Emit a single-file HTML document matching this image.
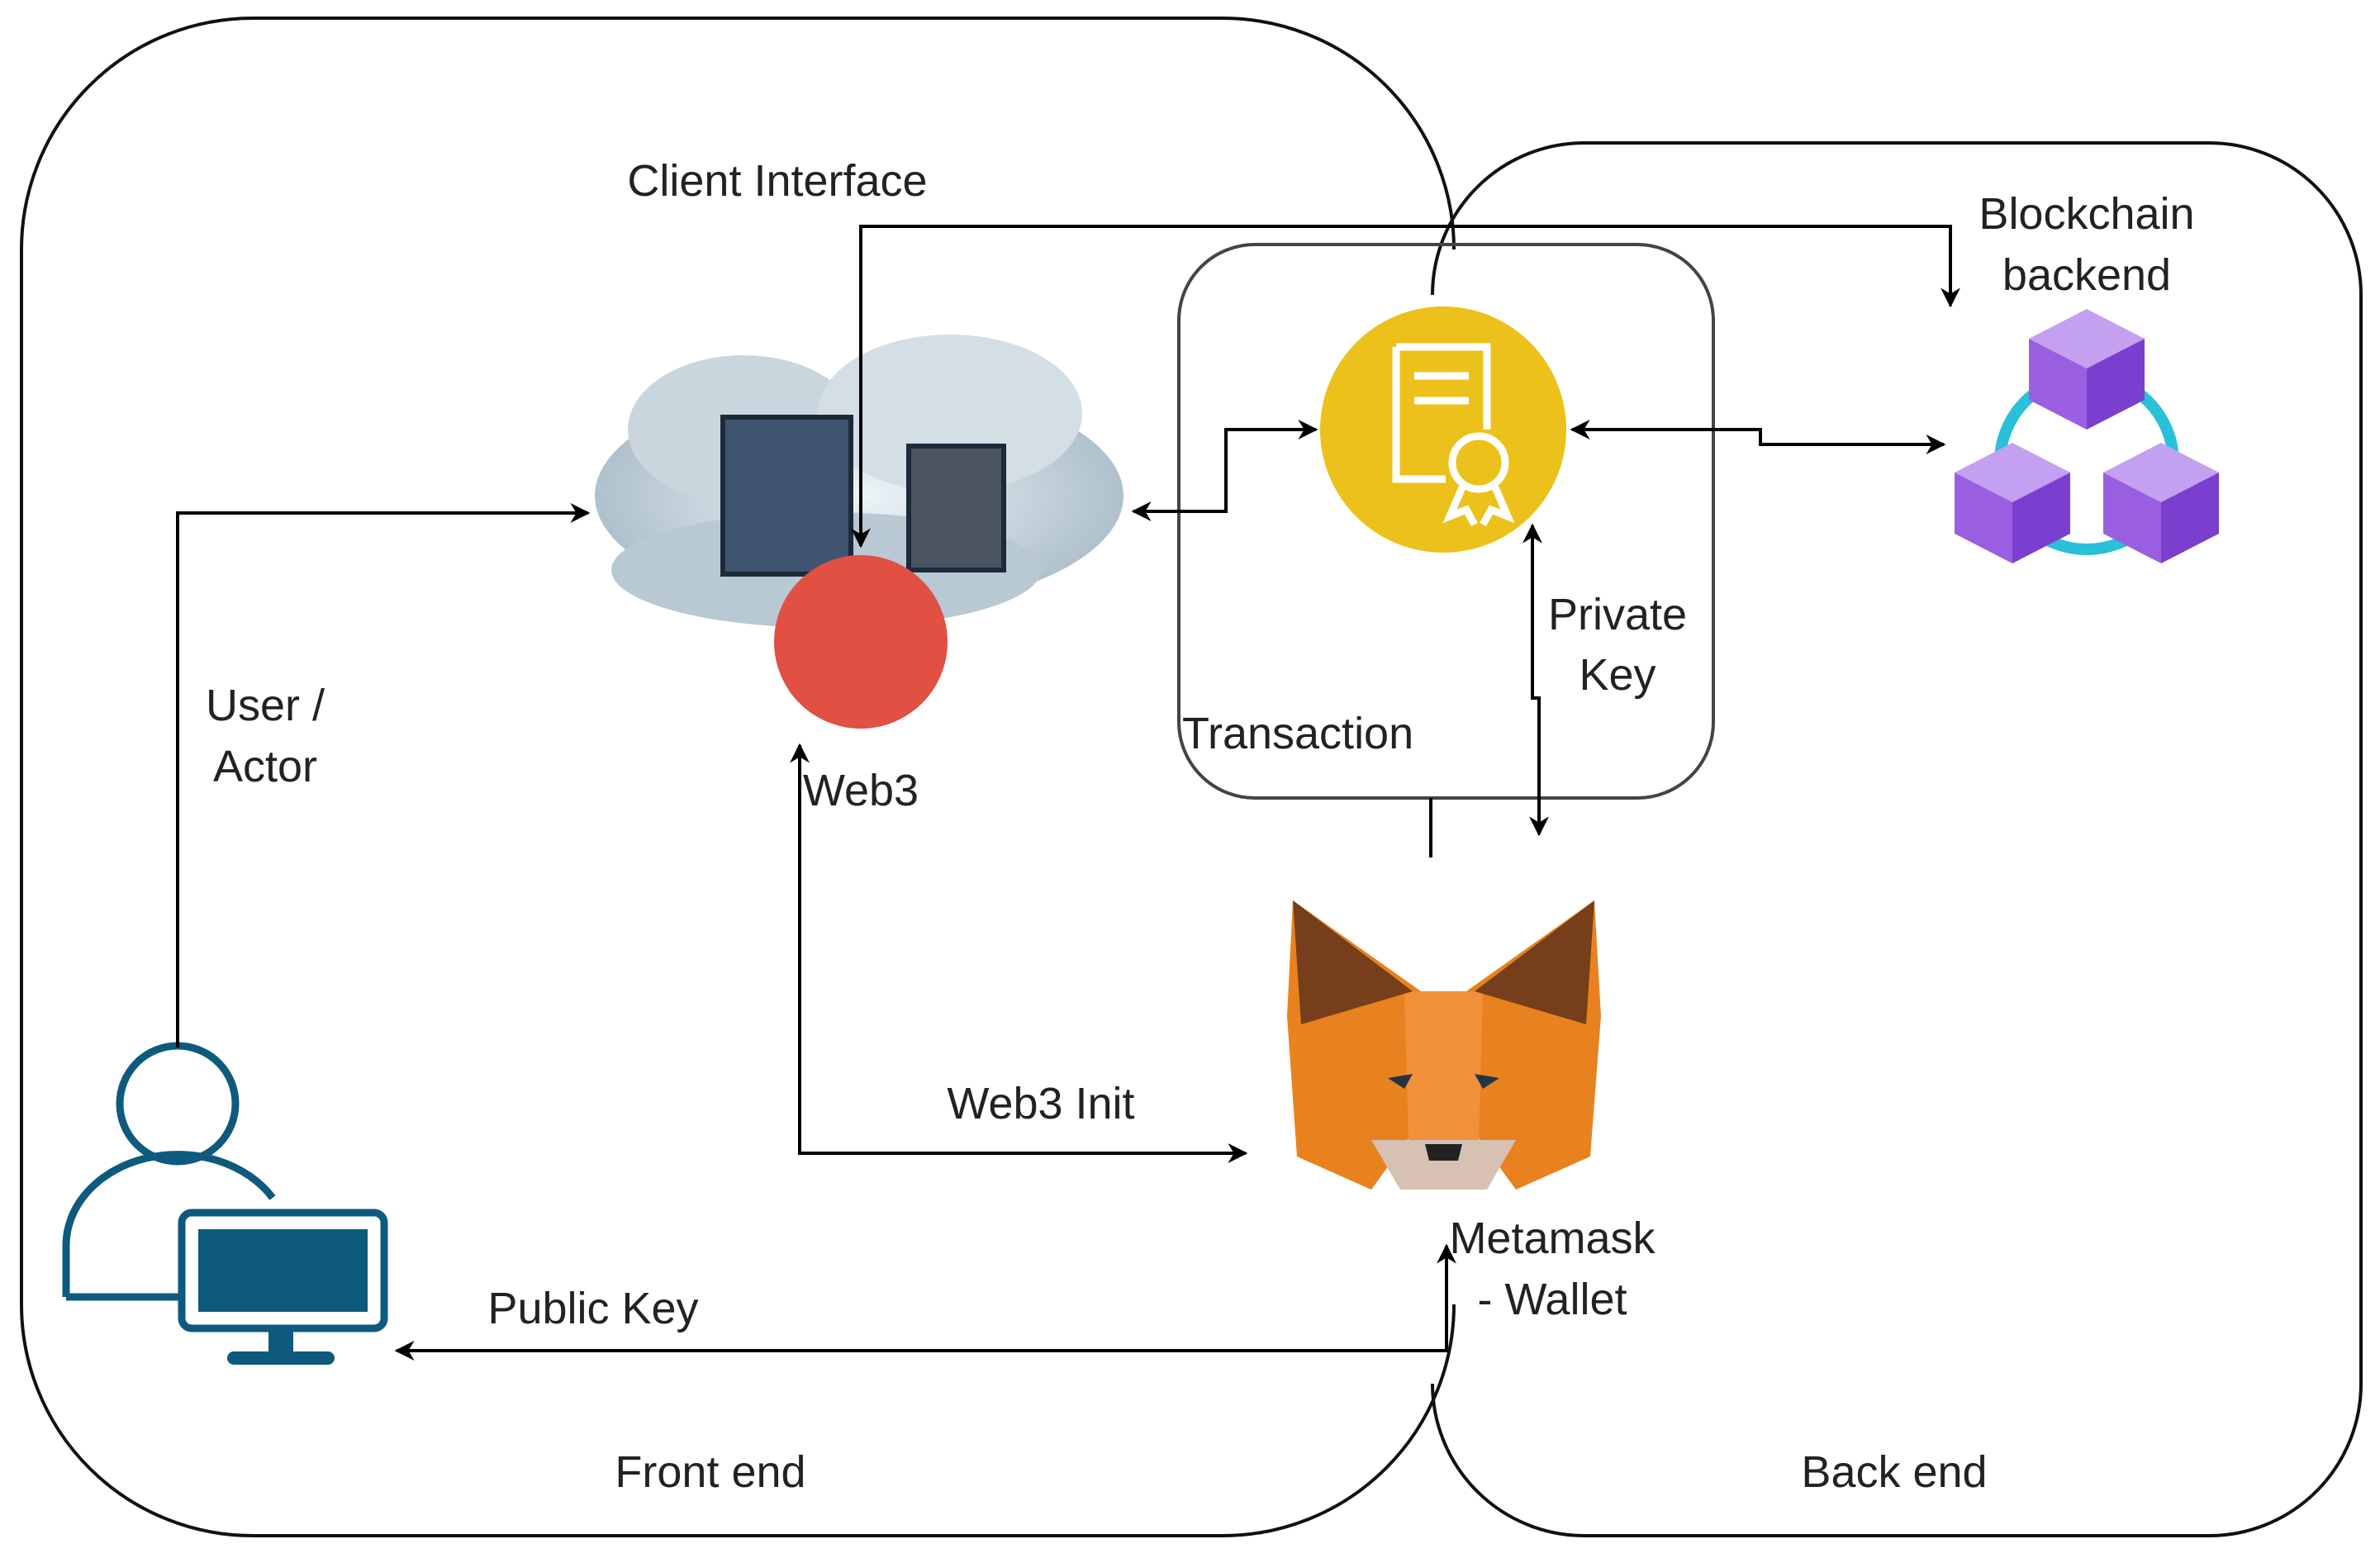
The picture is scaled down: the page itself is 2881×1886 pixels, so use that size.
<!DOCTYPE html>
<html><head><meta charset="utf-8"><style>
html,body{margin:0;padding:0;background:#fff;}
svg{display:block;}
text{font-family:"Liberation Sans",sans-serif;fill:#222;font-size:54px;}
</style></head><body>
<svg width="2881" height="1886" viewBox="0 0 2881 1886" xmlns="http://www.w3.org/2000/svg">
<defs>
<marker id="a" viewBox="0 0 10 10" refX="9" refY="5" markerWidth="6" markerHeight="6" orient="auto-start-reverse" markerUnits="strokeWidth">
<path d="M0,0 L10,5 L0,10 L3,5 z" fill="#000"/></marker>
<radialGradient id="cl" cx="50%" cy="50%" r="55%"><stop offset="0" stop-color="#eef4f8"/><stop offset="1" stop-color="#a9bcc8"/></radialGradient>
</defs>
<!-- containers (overlap verticals omitted) -->
<path d="M1760,302 A280,280 0 0 0 1480,22 H306 A280,280 0 0 0 26,302 V1579 A280,280 0 0 0 306,1859 H1480 A280,280 0 0 0 1760,1579" fill="none" stroke="#111" stroke-width="4"/>
<path d="M1734,357 A184,184 0 0 1 1918,173 H2674 A184,184 0 0 1 2858,357 V1675 A184,184 0 0 1 2674,1859 H1918 A184,184 0 0 1 1734,1675" fill="none" stroke="#111" stroke-width="4"/>
<rect x="1427" y="296" width="647" height="670" rx="92" fill="none" stroke="#444" stroke-width="4"/>
<line x1="1732" y1="966" x2="1732" y2="1038" stroke="#000" stroke-width="4"/>

<!-- cloud -->
<g>
<ellipse cx="1040" cy="600" rx="320" ry="140" fill="url(#cl)"/>
<ellipse cx="900" cy="520" rx="140" ry="90" fill="#c9d6de"/>
<ellipse cx="1150" cy="500" rx="160" ry="95" fill="#d3dee5"/>
<ellipse cx="1000" cy="690" rx="260" ry="70" fill="#b8c9d3"/>
<rect x="875" y="505" width="155" height="190" fill="#3e5470" stroke="#1d2a3a" stroke-width="6"/>
<rect x="1100" y="540" width="115" height="150" fill="#4b5562" stroke="#1d2a3a" stroke-width="6"/>
</g>
<circle cx="1042" cy="777" r="105" fill="#e05043"/>

<!-- yellow certificate -->
<circle cx="1747" cy="520" r="149" fill="#ecc11b"/>
<g fill="none" stroke="#fff" stroke-width="9">
<path d="M1690,420 h110 v100 M1690,420 v160 h60"/>
<line x1="1712" y1="455" x2="1778" y2="455"/><line x1="1712" y1="485" x2="1778" y2="485"/>
<circle cx="1790" cy="560" r="32"/>
<path d="M1770,590 l-15,35 l20,-8 l10,18 M1810,590 l15,35 l-20,-8 l-10,18"/>
</g>

<!-- blocks -->
<circle cx="2526" cy="560" r="105" fill="none" stroke="#29c0d8" stroke-width="14"/>
<g>
<polygon points="2526,374 2596,410 2526,446 2456,410" fill="#c4a0f0"/>
<polygon points="2456,410 2526,446 2526,520 2456,484" fill="#9a5fe0"/>
<polygon points="2596,410 2526,446 2526,520 2596,484" fill="#7a3fcf"/>
<polygon points="2436,536 2506,572 2436,608 2366,572" fill="#c4a0f0"/>
<polygon points="2366,572 2436,608 2436,682 2366,646" fill="#9a5fe0"/>
<polygon points="2506,572 2436,608 2436,682 2506,646" fill="#7a3fcf"/>
<polygon points="2616,536 2686,572 2616,608 2546,572" fill="#c4a0f0"/>
<polygon points="2546,572 2616,608 2616,682 2546,646" fill="#9a5fe0"/>
<polygon points="2686,572 2616,608 2616,682 2686,646" fill="#7a3fcf"/>
</g>

<!-- fox -->
<g>
<polygon points="1565,1090 1720,1200 1740,1330 1660,1440 1570,1400 1558,1230" fill="#e8821e"/>
<polygon points="1930,1090 1775,1200 1755,1330 1835,1440 1925,1400 1938,1230" fill="#e8821e"/>
<polygon points="1700,1200 1795,1200 1790,1380 1705,1380" fill="#f0903a"/>
<polygon points="1565,1090 1710,1200 1575,1240" fill="#763e1a"/>
<polygon points="1930,1090 1785,1200 1920,1240" fill="#763e1a"/>
<polygon points="1660,1380 1835,1380 1800,1440 1695,1440" fill="#d7c1b3"/>
<polygon points="1725,1385 1770,1385 1765,1405 1730,1405" fill="#222"/>
<polygon points="1680,1305 1710,1300 1700,1318" fill="#233447"/>
<polygon points="1815,1305 1785,1300 1795,1318" fill="#233447"/>
</g>

<!-- user -->
<g fill="none" stroke="#0e5a7e" stroke-width="9">
<circle cx="215" cy="1336" r="70"/>
<path d="M80,1570 v-60 a135,110 0 0 1 250,-60"/>
<line x1="80" y1="1570" x2="217" y2="1570"/>
<rect x="220" y="1468" width="245" height="140" rx="12"/>
</g>
<rect x="240" y="1488" width="205" height="100" fill="#0e5a7e"/>
<rect x="325" y="1608" width="30" height="30" fill="#0e5a7e"/>
<rect x="275" y="1636" width="130" height="16" rx="8" fill="#0e5a7e"/>

<!-- connectors -->
<g fill="none" stroke="#000" stroke-width="4">
<polyline points="215,1268 215,621 712,621" marker-end="url(#a)"/>
<polyline points="1042,661 1042,274 2361,274 2361,370" marker-start="url(#a)" marker-end="url(#a)"/>
<polyline points="1372,619 1484,619 1484,520 1593,520" marker-start="url(#a)" marker-end="url(#a)"/>
<polyline points="1903,520 2131,520 2131,538 2353,538" marker-start="url(#a)" marker-end="url(#a)"/>
<polyline points="1855,636 1855,845 1863,845 1863,1010" marker-start="url(#a)" marker-end="url(#a)"/>
<polyline points="968,902 968,1396 1508,1396" marker-start="url(#a)" marker-end="url(#a)"/>
<polyline points="1751,1508 1751,1635 480,1635" marker-start="url(#a)" marker-end="url(#a)"/>
</g>

<!-- labels -->
<g text-anchor="middle">
<text x="941" y="237">Client Interface</text>
<text x="1042" y="975">Web3</text>
<text x="321" y="872">User /</text><text x="321" y="946">Actor</text>
<text x="1958" y="762">Private</text><text x="1958" y="835">Key</text>
<text x="2526" y="277">Blockchain</text><text x="2526" y="351">backend</text>
<text x="1879" y="1517">Metamask</text><text x="1879" y="1591">- Wallet</text>
<text x="1260" y="1354">Web3 Init</text>
<text x="718" y="1602">Public Key</text>
<text x="860" y="1800">Front end</text>
<text x="2293" y="1800">Back end</text>
</g>
<text x="1431" y="906">Transaction</text>
</svg>
</body></html>
